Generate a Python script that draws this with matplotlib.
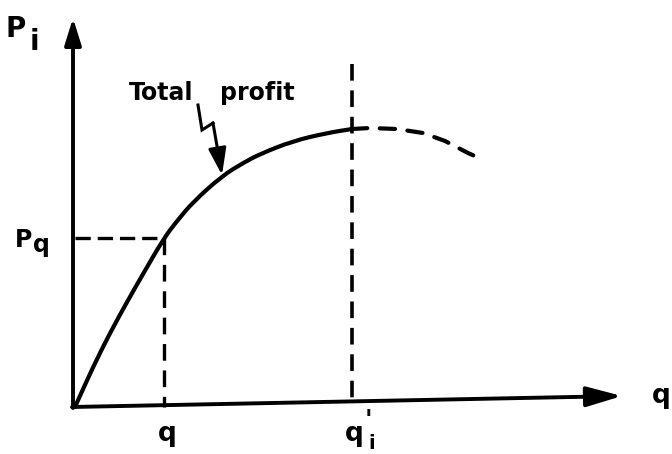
import matplotlib
matplotlib.use("Agg")
import matplotlib.pyplot as plt
from matplotlib.path import Path
from matplotlib.patches import PathPatch

plt.rcParams["lines.scale_dashes"] = False
plt.rcParams["font.family"] = ["DejaVu Sans"]

# Total profit curve (rising part, solid) and its continuation past q'_i (dashed)
profit_q = [0, 18, 35, 52, 68, 89, 102, 118, 147, 168, 185, 218, 252, 277]
profit_p = [0, 40, 74, 105, 133, 169, 186, 205, 231, 244, 253, 266, 274, 278]
beyond_q = [277, 295, 322, 348, 370, 393, 402]
beyond_p = [278, 279, 278, 274, 266, 254, 250]

# Marked points
q_mark = 89
p_q = 169
q_prime = 277
q_prime_top = 343

# Pointer from the label to the curve
pointer_q = [123, 127, 138, 147]
pointer_p = [302, 277, 284, 238]


def smooth_path(xs, ys):
    """Quadratic Bezier path through the midpoints, using each point as control."""
    pts = list(zip(xs, ys))
    verts = [pts[0]]
    codes = [Path.MOVETO]
    mid = lambda a, b: ((a[0] + b[0]) / 2, (a[1] + b[1]) / 2)
    verts.append(mid(pts[0], pts[1]))
    codes.append(Path.LINETO)
    for i in range(1, len(pts) - 1):
        verts += [pts[i], mid(pts[i], pts[i + 1])]
        codes += [Path.CURVE3, Path.CURVE3]
    verts.append(pts[-1])
    codes.append(Path.LINETO)
    return Path(verts, codes)


fig = plt.figure(figsize=(6.72, 4.54), dpi=100)
ax = fig.add_axes([0, 0, 1, 1])
ax.set_xlim(-75, 597)
ax.set_ylim(-47, 407)
ax.axis("off")

ink = "black"

# Axes with arrowheads
ax.annotate("", xy=(-2, 389), xytext=(-2, -1),
            arrowprops=dict(arrowstyle="-|>,head_length=0.9,head_width=0.28",
                            lw=2.8, color=ink, mutation_scale=18,
                            shrinkA=0, shrinkB=0))
ax.annotate("", xy=(547, 11), xytext=(-3, 0),
            arrowprops=dict(arrowstyle="-|>,head_length=1.2,head_width=0.34",
                            lw=2.8, color=ink, mutation_scale=18,
                            shrinkA=0, shrinkB=0))

# Curves
ax.add_patch(PathPatch(smooth_path(profit_q, profit_p), facecolor="none",
                       edgecolor=ink, lw=3.0, capstyle="round",
                       joinstyle="round"))
ax.plot(beyond_q, beyond_p, color=ink, lw=3.0, dashes=(11, 9),
        dash_capstyle="round")

# Guide lines (vertical ones drawn top-down so each starts with a full dash)
ax.plot([0, q_mark], [p_q, p_q], color=ink, lw=2.4, dashes=(11, 5))
ax.plot([q_mark, q_mark], [p_q, 0], color=ink, lw=2.4, dashes=(12, 7))
ax.plot([q_prime, q_prime], [q_prime_top, 0], color=ink, lw=2.6, dashes=(12, 7))

# Label pointer
ax.plot(pointer_q[:3], pointer_p[:3], color=ink, lw=2.2, solid_joinstyle="miter")
ax.annotate("", xy=(pointer_q[3], pointer_p[3] - 6), xytext=(pointer_q[2], pointer_p[2]),
            arrowprops=dict(arrowstyle="-|>,head_length=0.9,head_width=0.3",
                            lw=2.2, color=ink, mutation_scale=18,
                            shrinkA=0, shrinkB=0))

# Text
bold = dict(color=ink, fontweight="bold", va="baseline", ha="left")
ax.text(-69, 370, "P", fontsize=20, **bold)
ax.text(-45, 357, "i", fontsize=20, **bold)
ax.text(-60, 160, "P", fontsize=17, **bold)
ax.text(-42, 155, "q", fontsize=17, **bold)
ax.text(86, 307, "Total", fontsize=17, color=ink, fontweight="bold",
        ha="center", va="baseline")
ax.text(182, 307, "profit", fontsize=17, color=ink, fontweight="bold",
        ha="center", va="baseline")
ax.text(q_mark + 3, -34, "q", fontsize=19, color=ink, fontweight="bold",
        ha="center", va="baseline")
ax.text(q_prime - 7, -34, "q", fontsize=19, **bold)
ax.text(q_prime + 13, -20, "'", fontsize=18, **bold)
ax.text(q_prime + 16, -42, "i", fontsize=14, **bold)
ax.text(577, 4, "q", fontsize=19, **bold)

fig.savefig("out.png", dpi=100)
